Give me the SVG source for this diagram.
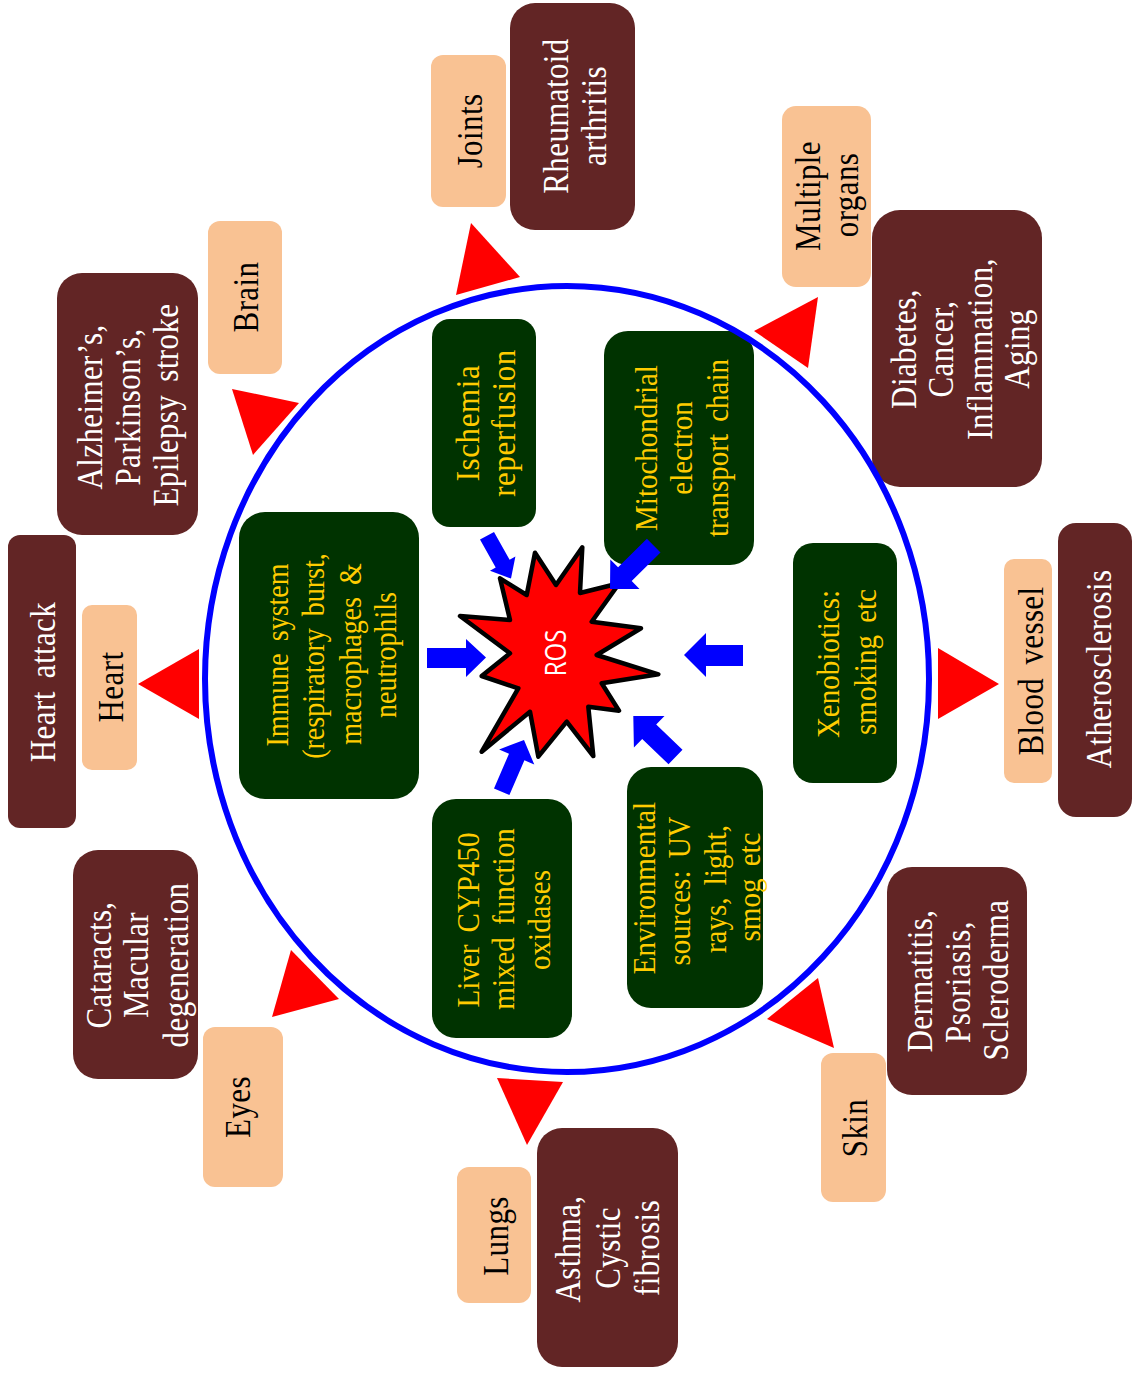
<svg xmlns="http://www.w3.org/2000/svg" width="1132" height="1374" viewBox="0 0 1132 1374">
<style>
.dk{fill:#622525}
.pc{fill:#F9C293}
.gr{fill:#003300}
.tw{font-family:"Liberation Serif","Times New Roman",serif;font-size:31px;fill:#ffffff;text-anchor:middle;word-spacing:5px;letter-spacing:0.4px}
.tb{font-family:"Liberation Serif","Times New Roman",serif;font-size:31px;fill:#000000;text-anchor:middle;word-spacing:5px;letter-spacing:0.4px}
.ty{font-family:"Liberation Serif","Times New Roman",serif;font-size:29px;fill:#FFCC00;text-anchor:middle;word-spacing:5px}
.tri{fill:#FF0000}
.arr{fill:#0000FF}
</style>
<rect width="1132" height="1374" fill="#ffffff"/>

<!-- disease boxes (dark) -->
<g id="rheumatoid">
<rect class="dk" x="510" y="3" width="125" height="227" rx="25"/>
<text class="tw" transform="translate(568,116) rotate(-90) scale(1,1.13)">Rheumatoid</text>
<text class="tw" transform="translate(606,116) rotate(-90) scale(1,1.13)">arthritis</text>
</g>
<g id="diabetes">
<rect class="dk" x="872" y="210" width="170" height="277" rx="28"/>
<text class="tw" transform="translate(916,349) rotate(-90) scale(1,1.13)">Diabetes,</text>
<text class="tw" transform="translate(953,349) rotate(-90) scale(1,1.13)">Cancer,</text>
<text class="tw" transform="translate(992,349) rotate(-90) scale(1,1.13)">Inflammation,</text>
<text class="tw" transform="translate(1029,349) rotate(-90) scale(1,1.13)">Aging</text>
</g>
<g id="alzheimers">
<rect class="dk" x="57" y="273" width="141" height="262" rx="25"/>
<text class="tw" transform="translate(102,407) rotate(-90) scale(1,1.13)">Alzheimer’s,</text>
<text class="tw" transform="translate(140,407) rotate(-90) scale(1,1.13)">Parkinson’s,</text>
<text class="tw" transform="translate(178,405) rotate(-90) scale(1,1.13)">Epilepsy stroke</text>
</g>
<g id="heart-attack">
<rect class="dk" x="8" y="535" width="68" height="293" rx="12"/>
<text class="tw" transform="translate(55,682) rotate(-90) scale(1,1.13)">Heart attack</text>
</g>
<g id="cataracts">
<rect class="dk" x="73" y="850" width="125" height="229" rx="25"/>
<text class="tw" transform="translate(111,965) rotate(-90) scale(1,1.13)">Cataracts,</text>
<text class="tw" transform="translate(148,965) rotate(-90) scale(1,1.13)">Macular</text>
<text class="tw" transform="translate(188,965) rotate(-90) scale(1,1.13)">degeneration</text>
</g>
<g id="asthma">
<rect class="dk" x="537" y="1128" width="141" height="239" rx="25"/>
<text class="tw" transform="translate(580,1249) rotate(-90) scale(1,1.13)">Asthma,</text>
<text class="tw" transform="translate(620,1248) rotate(-90) scale(1,1.13)">Cystic</text>
<text class="tw" transform="translate(659,1248) rotate(-90) scale(1,1.13)">fibrosis</text>
</g>
<g id="dermatitis">
<rect class="dk" x="887" y="867" width="140" height="228" rx="25"/>
<text class="tw" transform="translate(932,981) rotate(-90) scale(1,1.13)">Dermatitis,</text>
<text class="tw" transform="translate(970,982) rotate(-90) scale(1,1.13)">Psoriasis,</text>
<text class="tw" transform="translate(1008,980) rotate(-90) scale(1,1.13)">Scleroderma</text>
</g>
<g id="atherosclerosis">
<rect class="dk" x="1058" y="523" width="74" height="294" rx="18"/>
<text class="tw" transform="translate(1111,669) rotate(-90) scale(1,1.13)">Atherosclerosis</text>
</g>

<!-- organ boxes (peach) -->
<g id="joints">
<rect class="pc" x="431" y="55" width="75" height="152" rx="12"/>
<text class="tb" transform="translate(482,131) rotate(-90) scale(1,1.13)">Joints</text>
</g>
<g id="multiple-organs">
<rect class="pc" x="782" y="106" width="89" height="181" rx="14"/>
<text class="tb" transform="translate(820,196) rotate(-90) scale(1,1.13)">Multiple</text>
<text class="tb" transform="translate(858,195) rotate(-90) scale(1,1.13)">organs</text>
</g>
<g id="brain">
<rect class="pc" x="208" y="221" width="74" height="153" rx="12"/>
<text class="tb" transform="translate(258,297) rotate(-90) scale(1,1.13)">Brain</text>
</g>
<g id="heart">
<rect class="pc" x="82" y="605" width="55" height="165" rx="10"/>
<text class="tb" transform="translate(123,687) rotate(-90) scale(1,1.13)">Heart</text>
</g>
<g id="eyes">
<rect class="pc" x="203" y="1027" width="80" height="160" rx="12"/>
<text class="tb" transform="translate(250,1107) rotate(-90) scale(1,1.13)">Eyes</text>
</g>
<g id="lungs">
<rect class="pc" x="457" y="1167" width="74" height="136" rx="12"/>
<text class="tb" transform="translate(508,1236) rotate(-90) scale(1,1.13)">Lungs</text>
</g>
<g id="skin">
<rect class="pc" x="821" y="1053" width="65" height="149" rx="12"/>
<text class="tb" transform="translate(867,1128) rotate(-90) scale(1,1.13)">Skin</text>
</g>
<g id="blood-vessel">
<rect class="pc" x="1004" y="559" width="48" height="224" rx="10"/>
<text class="tb" transform="translate(1043,671) rotate(-90) scale(1,1.13)">Blood vessel</text>
</g>

<!-- source boxes (green) -->
<g id="ischemia">
<rect class="gr" x="432" y="319" width="104" height="208" rx="18"/>
<text class="ty" style="font-size:31px;letter-spacing:0.6px" transform="translate(479,423) rotate(-90) scale(1,1.08)">Ischemia</text>
<text class="ty" style="font-size:31px;letter-spacing:0.6px" transform="translate(515,423) rotate(-90) scale(1,1.08)">reperfusion</text>
</g>
<g id="mitochondrial">
<rect class="gr" x="604" y="331" width="150" height="234" rx="24"/>
<text class="ty" transform="translate(657,448) rotate(-90) scale(1,1.08)">Mitochondrial</text>
<text class="ty" transform="translate(692,448) rotate(-90) scale(1,1.08)">electron</text>
<text class="ty" transform="translate(728,448) rotate(-90) scale(1,1.08)">transport chain</text>
</g>
<g id="immune">
<rect class="gr" x="239" y="512" width="180" height="287" rx="26"/>
<text class="ty" style="font-size:28px" transform="translate(288,655) rotate(-90) scale(1,1.1)">Immune system</text>
<text class="ty" style="font-size:28px" transform="translate(324,656) rotate(-90) scale(1,1.1)">(respiratory burst,</text>
<text class="ty" style="font-size:28px" transform="translate(361,654) rotate(-90) scale(1,1.1)">macrophages &amp;</text>
<text class="ty" style="font-size:28px" transform="translate(396,655) rotate(-90) scale(1,1.1)">neutrophils</text>
</g>
<g id="liver">
<rect class="gr" x="432" y="799" width="140" height="239" rx="24"/>
<text class="ty" transform="translate(479,920) rotate(-90) scale(1,1.08)">Liver CYP450</text>
<text class="ty" transform="translate(514,919) rotate(-90) scale(1,1.08)">mixed function</text>
<text class="ty" transform="translate(550,920) rotate(-90) scale(1,1.08)">oxidases</text>
</g>
<g id="environmental">
<rect class="gr" x="627" y="767" width="136" height="241" rx="24"/>
<text class="ty" transform="translate(655,888) rotate(-90) scale(1,1.08)">Environmental</text>
<text class="ty" transform="translate(690,891) rotate(-90) scale(1,1.08)">sources: UV</text>
<text class="ty" transform="translate(726,889) rotate(-90) scale(1,1.08)">rays, light,</text>
<text class="ty" transform="translate(760,887) rotate(-90) scale(1,1.08)">smog etc</text>
</g>
<g id="xenobiotics">
<rect class="gr" x="793" y="543" width="104" height="240" rx="20"/>
<text class="ty" transform="translate(839,664) rotate(-90) scale(1,1.08)">Xenobiotics:</text>
<text class="ty" transform="translate(876,662) rotate(-90) scale(1,1.08)">smoking etc</text>
</g>

<!-- boundary circle -->
<ellipse id="body-circle" cx="567" cy="679" rx="362" ry="393" fill="none" stroke="#0000FF" stroke-width="6"/>

<!-- ROS star -->
<g id="ros">
<polygon points="535,552.7 556,585 582.3,547.3 580,593 619.3,583.3 591.7,621.7 641,628.3 596.7,655 658.3,674.3 601.7,683.3 619,710.7 588.3,706.7 593.3,756 566.7,721.7 538.3,756.7 530,711.7 481.7,751.7 518.3,688.3 481.7,676 510,653.3 460,616 510,620 500,578.3 526.7,595" fill="#FF0000" stroke="#000000" stroke-width="4.5" stroke-linejoin="round"/>
<text transform="translate(566,653) rotate(-90) scale(1,1.22)" style="font-family:'Open Sans','Liberation Sans',sans-serif;font-size:24px;fill:#ffffff;text-anchor:middle">ROS</text>
</g>

<!-- connectors -->
<g id="connectors">
<polygon class="tri" points="471,223 520,277 456,295"/>
<polygon class="tri" points="818,297 808,368 754,331"/>
<polygon class="tri" points="232,389 299,403 253,455"/>
<polygon class="tri" points="138,684 199,649 199,719"/>
<polygon class="tri" points="272,1017 291,950 339,999"/>
<polygon class="tri" points="527,1145 497,1078 563,1082"/>
<polygon class="tri" points="834,1048 767,1019 818,978"/>
<polygon class="tri" points="999,684 938,648 938,719"/>

<polygon class="arr" points="427,648 466,648 466,639 486,657.5 466,677 466,668 427,668"/>
<polygon class="arr" points="743,645 706,645 706,633 684,655 706,677 706,666 743,666"/>
<polygon class="arr" points="494,532 509.6,559.7 515.4,556.5 511,578.5 490,570.7 495.7,567.5 480,539.4"/>
<polygon class="arr" points="660.5,552.6 631.7,581.1 639.5,588.9 610,589 610.3,559.5 618.1,567.3 646.9,538.8"/>
<polygon class="arr" points="509.4,795 524.4,760.3 534.3,764.6 524,740 499.1,749.4 509,753.7 494,788.4"/>
<polygon class="arr" points="682.5,749.8 656.2,724.5 664.5,715.9 633.3,716 633.9,747.5 642.2,738.9 668.5,764.2"/>
</g>
</svg>
